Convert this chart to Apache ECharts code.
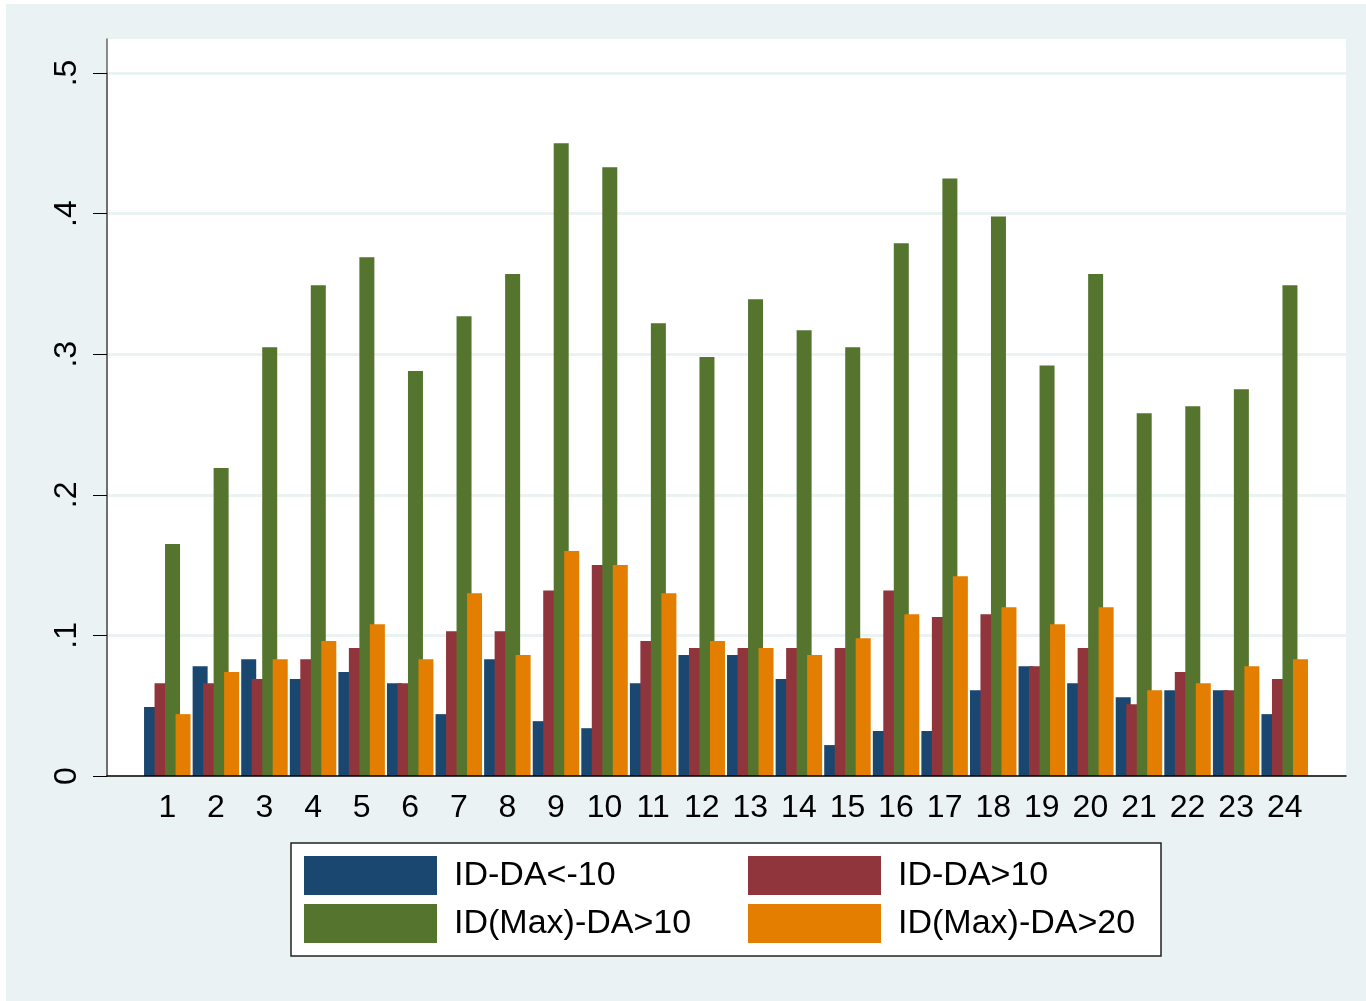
<!DOCTYPE html>
<html>
<head>
<meta charset="utf-8">
<script src="https://cdn.jsdelivr.net/npm/echarts@6/dist/echarts.min.js"></script>
<style>
html,body{margin:0;padding:0;background:#fff;}
#c{width:1366px;height:1001px;}
</style>
</head>
<body>
<div id="c"></div>
<script>
const categories = ['1','2','3','4','5','6','7','8','9','10','11','12','13','14','15','16','17','18','19','20','21','22','23','24'];
const seriesNames = ['ID-DA<-10','ID-DA>10','ID(Max)-DA>10','ID(Max)-DA>20'];
const blueVals = [0.049,0.078,0.083,0.069,0.074,0.066,0.044,0.083,0.039,0.034,0.066,0.086,0.086,0.069,0.022,0.032,0.032,0.061,0.078,0.066,0.056,0.061,0.061,0.044];
const redVals = [0.066,0.066,0.069,0.083,0.091,0.066,0.103,0.103,0.132,0.150,0.096,0.091,0.091,0.091,0.091,0.132,0.113,0.115,0.078,0.091,0.051,0.074,0.061,0.069];
const greenVals = [0.165,0.219,0.305,0.349,0.369,0.288,0.327,0.357,0.450,0.433,0.322,0.298,0.339,0.317,0.305,0.379,0.425,0.398,0.292,0.357,0.258,0.263,0.275,0.349];
const orangeVals = [0.044,0.074,0.083,0.096,0.108,0.083,0.130,0.086,0.160,0.150,0.130,0.096,0.091,0.086,0.098,0.115,0.142,0.120,0.108,0.120,0.061,0.066,0.078,0.083];
const yTickLabels = ['0','.1','.2','.3','.4','.5'];
const colors = ['#1a476f','#90353b','#55752f','#e37e00'];
const allVals = [blueVals, redVals, greenVals, orangeVals];

const FONT = 'Liberation Sans, Arial, sans-serif';
const chart = echarts.init(document.getElementById('c'), null, {renderer:'canvas'});

const series = seriesNames.map((n,i)=>({
  name:n, type:'bar', xAxisIndex:2, yAxisIndex:2,
  data: allVals[i], barWidth:15, barGap:'-30%',
  itemStyle:{color:colors[i]}, z:2
}));

const legendPos = [[304,856],[748,856],[304,904],[748,904]];
const legends = seriesNames.map((n,i)=>({
  data:[n], left:legendPos[i][0], top:legendPos[i][1], orient:'horizontal',
  itemWidth:133, itemHeight:39, icon:'rect', selectedMode:false, padding:0,
  textStyle:{fontSize:34, color:'#000', fontFamily:FONT, padding:[4,0,0,12]}
}));

chart.setOption({
  backgroundColor:'#eaf2f3',
  animation:false,
  graphic:[
    {type:'rect', shape:{x:0,y:0,width:1366,height:4}, style:{fill:'#fff'}, silent:true},
    {type:'rect', shape:{x:0,y:0,width:6,height:1001}, style:{fill:'#fff'}, silent:true},
    {type:'rect', shape:{x:291,y:843,width:870,height:113}, style:{fill:'#fff', stroke:'#222', lineWidth:1.5}, silent:true, z:-1}
  ],
  legend: legends,
  grid:[
    {left:107, top:39, width:1239, height:737, show:true, backgroundColor:'#fff', borderWidth:0},
    {left:107, top:73, width:1239, height:703, show:false},
    {left:143, top:73, width:1166, height:703, show:false}
  ],
  xAxis:[
    {gridIndex:0, type:'value', min:0, max:1, z:10,
     axisLine:{show:true, onZero:false, lineStyle:{color:'#000', width:1.5}},
     axisTick:{show:false}, axisLabel:{show:false}, splitLine:{show:false}},
    {gridIndex:1, type:'value', min:0, max:1, show:false},
    {gridIndex:2, type:'category', data:categories,
     axisLine:{show:false}, axisTick:{show:false},
     axisLabel:{show:true, fontSize:32, color:'#000', fontFamily:FONT, margin:16, interval:0},
     splitLine:{show:false}}
  ],
  yAxis:[
    {gridIndex:0, type:'value', min:0, max:1,
     axisLine:{show:true, lineStyle:{color:'#666', width:1.5}},
     axisTick:{show:false}, axisLabel:{show:false}, splitLine:{show:false}},
    {gridIndex:1, type:'value', min:0, max:0.5, interval:0.1,
     axisLine:{show:true, lineStyle:{color:'#666', width:1.5}},
     axisTick:{show:true, length:14, lineStyle:{color:'#000', width:1}},
     axisLabel:{show:true, rotate:90, fontSize:32, color:'#000', fontFamily:FONT, margin:24,
       formatter:(v)=>yTickLabels[Math.round(v*10)]},
     splitLine:{show:true, lineStyle:{color:'#eaf2f3', width:3}}},
    {gridIndex:2, type:'value', min:0, max:0.5, show:false}
  ],
  series: series
});
</script>
</body>
</html>
